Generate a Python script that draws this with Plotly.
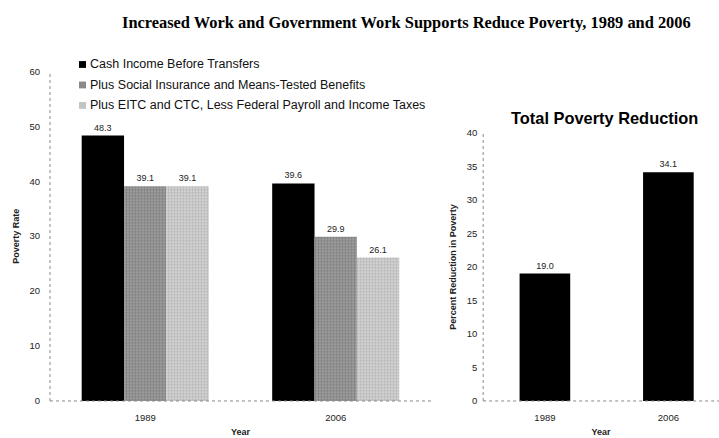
import plotly.graph_objects as go

years = ["1989", "2006"]
series_names = [
    "Cash Income Before Transfers",
    "Plus Social Insurance and Means-Tested Benefits",
    "Plus EITC and CTC, Less Federal Payroll and Income Taxes",
]
cash_income = [48.3, 39.6]
plus_social = [39.1, 29.9]
plus_eitc = [39.1, 26.1]
total_reduction = [19.0, 34.1]

fig = go.Figure()

styles = [
    dict(color="#000000"),
    dict(color="#9a9a9a", pattern=dict(shape=".", fgcolor="#5a5a5a", bgcolor="#a4a4a4", size=3, solidity=0.5)),
    dict(color="#cfcfcf", pattern=dict(shape=".", fgcolor="#8c8c8c", bgcolor="#d4d4d4", size=3, solidity=0.4)),
]
legend_marks = ["#000000", "#8a8a8a", "#c4c4c4"]
for name, vals, st in zip(series_names, [cash_income, plus_social, plus_eitc], styles):
    fig.add_trace(go.Bar(
        x=years, y=vals, name=name, marker=st, marker_line_width=0,
        text=[f"{v:.1f}" for v in vals], textposition="outside",
        textfont=dict(family="Arial", size=9, color="#222"),
        cliponaxis=False, xaxis="x", yaxis="y", showlegend=False,
    ))

fig.add_trace(go.Bar(
    x=years, y=total_reduction, name="Total", showlegend=False,
    marker=dict(color="#000000"), marker_line_width=0,
    text=[f"{v:.1f}" for v in total_reduction], textposition="outside",
    textfont=dict(family="Arial", size=9, color="#222"),
    cliponaxis=False, xaxis="x2", yaxis="y2", width=0.41,
))

axfont = dict(family="Arial", size=9.5, color="#222")
titlefont = dict(family="Arial", size=9, color="#222")

annotations = [
    dict(text="<b>Increased Work and Government Work Supports Reduce Poverty, 1989 and 2006</b>",
         x=406 / 719, y=1 - 17 / 438, xref="paper", yref="paper", showarrow=False,
         xanchor="center", yanchor="middle",
         font=dict(family="Liberation Serif", size=16.4, color="#000")),
    dict(text="<b>Total Poverty Reduction</b>",
         x=604 / 719, y=1 - 115 / 438, xref="paper", yref="paper", showarrow=False,
         xanchor="center", yanchor="middle",
         font=dict(family="Arial", size=16.4, color="#000")),
]
shapes = []
for i, (name, mc) in enumerate(zip(series_names, legend_marks)):
    yc = 60 + i * 21
    shapes.append(dict(type="rect", xref="paper", yref="paper",
                       x0=79 / 719, x1=86 / 719, y0=1 - (yc + 3.5) / 438, y1=1 - (yc - 3.5) / 438,
                       fillcolor=mc, line=dict(width=0)))
    annotations.append(dict(text=name, x=88 / 719, y=1 - yc / 438, xref="paper", yref="paper",
                            showarrow=False, xanchor="left", yanchor="middle",
                            font=dict(family="Arial", size=12.5, color="#111")))

for xr, yr in [("x", "y"), ("x2", "y2")]:
    shapes.append(dict(type="line", xref=f"{xr} domain", yref=f"{yr} domain", x0=0, x1=0, y0=0, y1=1,
                       line=dict(color="#888", width=1, dash="dot")))
    shapes.append(dict(type="line", xref=f"{xr} domain", yref=f"{yr} domain", x0=0, x1=1, y0=0, y1=0,
                       line=dict(color="#888", width=1, dash="dot")))

fig.update_layout(
    width=719, height=438,
    margin=dict(l=0, r=0, t=0, b=0),
    paper_bgcolor="white", plot_bgcolor="white",
    barmode="group", bargap=0.333, bargroupgap=0,
    showlegend=False,
    xaxis=dict(domain=[0.0695, 0.5994], anchor="y", showgrid=False, showline=False,
               ticks="outside", ticklen=8, tickcolor="rgba(0,0,0,0)", tickfont=axfont,
               title=dict(text="<b>Year</b>", font=titlefont, standoff=6)),
    yaxis=dict(domain=[0.075, 0.847], anchor="x", range=[0, 60], dtick=10, showgrid=False,
               showline=False, ticks="outside", ticklen=7, tickcolor="rgba(0,0,0,0)",
               tickfont=axfont, zeroline=False,
               title=dict(text="<b>Poverty Rate</b>", font=titlefont, standoff=8)),
    xaxis2=dict(domain=[0.672, 1.0], anchor="y2", showgrid=False, showline=False,
                ticks="outside", ticklen=8, tickcolor="rgba(0,0,0,0)",
                range=[-0.5, 1.41], tickfont=axfont,
                title=dict(text="<b>Year</b>", font=titlefont, standoff=6)),
    yaxis2=dict(domain=[0.075, 0.703], anchor="x2", range=[0, 40], dtick=5, showgrid=False,
                showline=False, ticks="outside", ticklen=3, tickcolor="rgba(0,0,0,0)",
                tickfont=axfont, zeroline=False,
                title=dict(text="<b>Percent Reduction in Poverty</b>", font=titlefont, standoff=8)),
    annotations=annotations,
    shapes=shapes,
)

fig.write_html("out.html")
